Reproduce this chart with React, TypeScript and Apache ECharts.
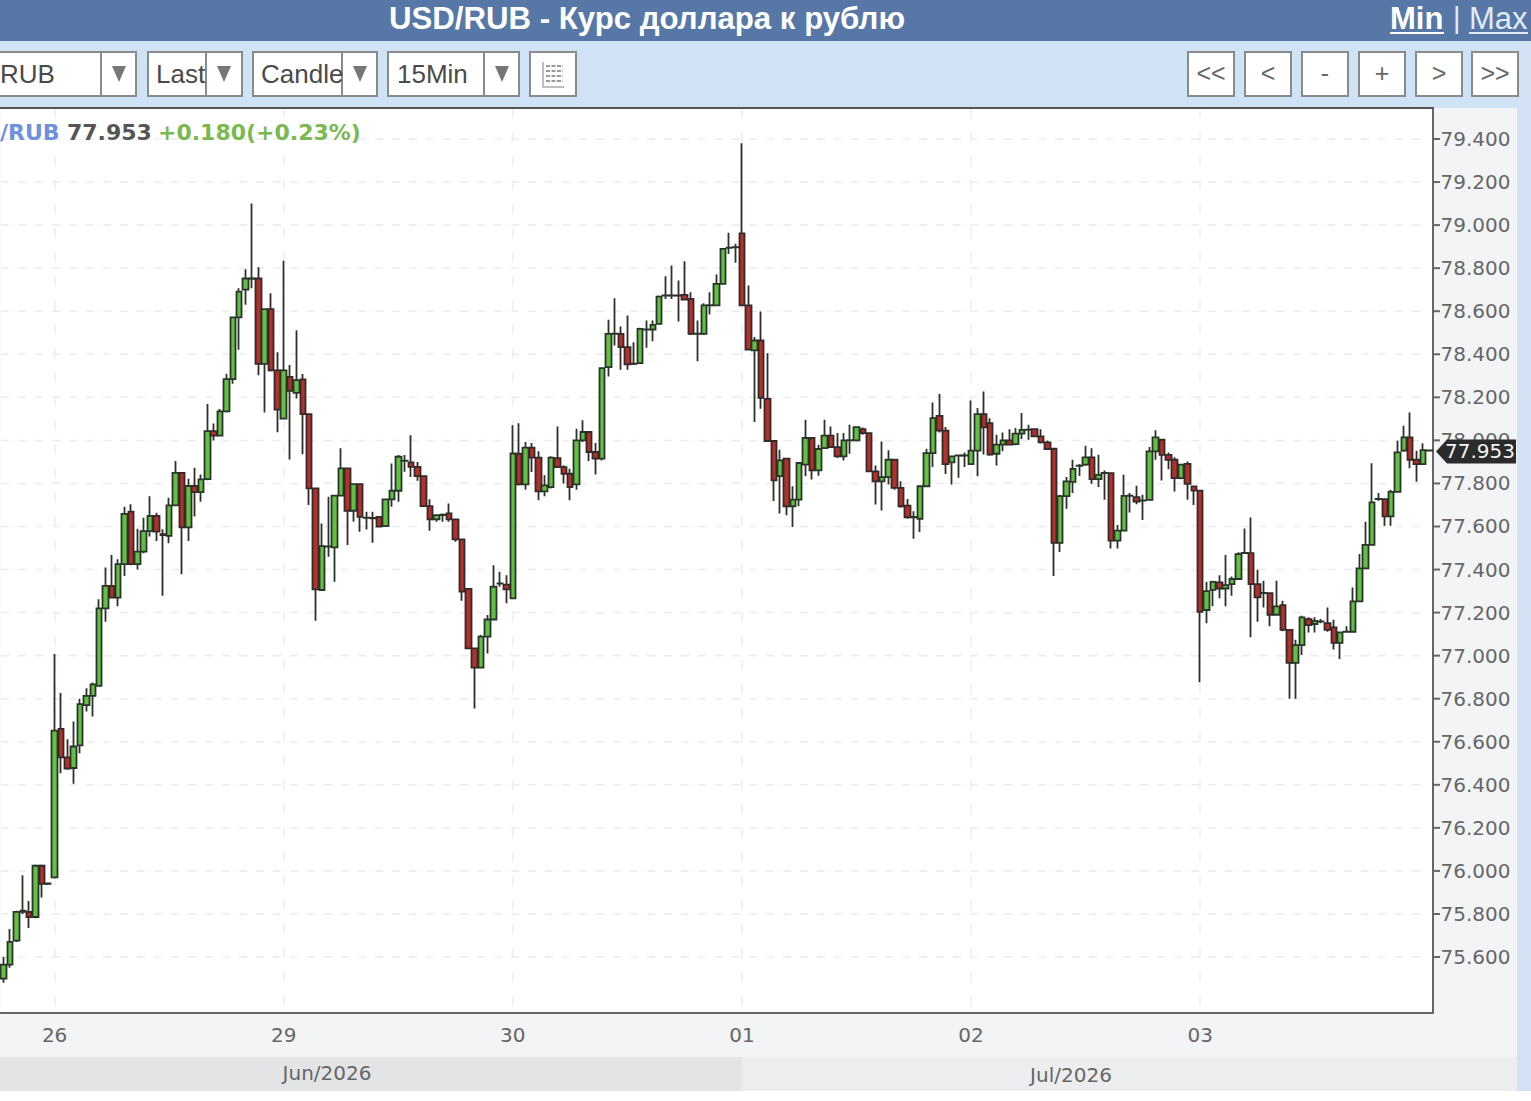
import React, { useEffect, useRef } from "react";
import * as echarts from "echarts";

// [open, close, low, high]
const jun25 = [
  [75.5, 75.565, 75.48, 75.6], [75.565, 75.67, 75.55, 75.73], [75.676, 75.81, 75.67, 75.815], [75.81, 75.815, 75.8, 75.98],
  [75.81, 75.785, 75.735, 75.86], [75.786, 76.024, 75.78, 76.03], [76.024, 75.94, 75.877, 76.03], [75.94, 75.942, 75.935, 75.945],
];
const jun26 = [
  [75.97, 76.652, 75.965, 77.008], [76.66, 76.527, 76.454, 76.826], [76.527, 76.475, 76.47, 76.612], [76.478, 76.578, 76.405, 76.694],
  [76.583, 76.775, 76.547, 76.8], [76.77, 76.813, 76.74, 76.849], [76.813, 76.867, 76.717, 76.875], [76.86, 77.22, 76.855, 77.262],
  [77.22, 77.324, 77.158, 77.409], [77.324, 77.27, 77.265, 77.468], [77.27, 77.425, 77.23, 77.448], [77.425, 77.659, 77.37, 77.692],
  [77.669, 77.425, 77.42, 77.703], [77.425, 77.483, 77.4, 77.59], [77.483, 77.578, 77.476, 77.641], [77.578, 77.649, 77.553, 77.741],
  [77.649, 77.576, 77.533, 77.664], [77.564, 77.56, 77.278, 77.587], [77.556, 77.698, 77.522, 77.734], [77.698, 77.849, 77.695, 77.904],
  [77.849, 77.596, 77.378, 77.85], [77.596, 77.788, 77.533, 77.822], [77.788, 77.76, 77.646, 77.873], [77.76, 77.819, 77.715, 77.842],
  [77.82, 78.043, 77.815, 78.169], [78.043, 78.022, 78.0, 78.078], [78.022, 78.135, 78.02, 78.146], [78.135, 78.285, 78.13, 78.31],
  [78.285, 78.571, 78.263, 78.575], [78.571, 78.691, 78.421, 78.707], [78.7, 78.752, 78.63, 78.795], [78.75, 78.752, 78.707, 79.1],
  [78.752, 78.355, 78.302, 78.804], [78.355, 78.61, 78.13, 78.61], [78.61, 78.325, 78.32, 78.684], [78.325, 78.143, 78.038, 78.409],
];
const jun29 = [
  [78.101, 78.325, 78.1, 78.835], [78.295, 78.23, 77.911, 78.35], [78.221, 78.28, 78.195, 78.512], [78.283, 78.122, 77.936, 78.308],
  [78.122, 77.777, 77.7, 78.122], [77.777, 77.308, 77.162, 77.777], [77.305, 77.509, 77.3, 77.614], [77.506, 77.507, 77.459, 77.738],
  [77.503, 77.743, 77.343, 77.745], [77.743, 77.87, 77.74, 77.963], [77.87, 77.673, 77.514, 77.87], [77.673, 77.797, 77.622, 77.8],
  [77.797, 77.645, 77.576, 77.797], [77.64, 77.641, 77.586, 77.668], [77.64, 77.638, 77.524, 77.668], [77.645, 77.599, 77.595, 77.648],
  [77.602, 77.726, 77.6, 77.726], [77.726, 77.766, 77.692, 77.893], [77.766, 77.924, 77.715, 77.932], [77.905, 77.906, 77.854, 77.932],
  [77.898, 77.877, 77.83, 78.024], [77.877, 77.834, 77.812, 77.9], [77.834, 77.695, 77.69, 77.835], [77.695, 77.633, 77.58, 77.726],
  [77.633, 77.653, 77.622, 77.656], [77.653, 77.655, 77.622, 77.66], [77.661, 77.633, 77.622, 77.707], [77.633, 77.54, 77.529, 77.633],
  [77.54, 77.297, 77.255, 77.54], [77.31, 77.034, 77.03, 77.31], [77.034, 76.944, 76.755, 77.034], [76.944, 77.088, 76.94, 77.096],
  [77.088, 77.168, 77.01, 77.189], [77.168, 77.32, 77.165, 77.42], [77.335, 77.336, 77.32, 77.39], [77.33, 77.308, 77.243, 77.374],
];
const jun30 = [
  [77.266, 77.939, 77.266, 78.07], [77.938, 77.796, 77.79, 78.08], [77.796, 77.966, 77.771, 77.992], [77.966, 77.92, 77.853, 77.988],
  [77.92, 77.763, 77.722, 77.95], [77.763, 77.791, 77.74, 77.838], [77.783, 77.92, 77.776, 77.926], [77.918, 77.876, 77.873, 78.065],
  [77.876, 77.845, 77.8, 77.884], [77.845, 77.783, 77.722, 77.868], [77.796, 78.0, 77.771, 78.054], [78.0, 78.039, 77.992, 78.093],
  [78.039, 77.946, 77.904, 78.04], [77.946, 77.915, 77.842, 77.988], [77.915, 78.336, 77.907, 78.34], [78.34, 78.495, 78.297, 78.56],
  [78.495, 78.496, 78.441, 78.66], [78.495, 78.433, 78.328, 78.529], [78.433, 78.353, 78.328, 78.58], [78.356, 78.355, 78.35, 78.456],
  [78.359, 78.518, 78.356, 78.523], [78.515, 78.516, 78.43, 78.557], [78.515, 78.537, 78.461, 78.557], [78.541, 78.668, 78.538, 78.673],
  [78.673, 78.674, 78.657, 78.763], [78.673, 78.674, 78.657, 78.812], [78.673, 78.672, 78.552, 78.743], [78.676, 78.654, 78.65, 78.832],
  [78.657, 78.495, 78.49, 78.688], [78.495, 78.496, 78.368, 78.557], [78.495, 78.627, 78.49, 78.637], [78.627, 78.628, 78.585, 78.688],
  [78.627, 78.727, 78.623, 78.77], [78.727, 78.89, 78.724, 78.893], [78.894, 78.895, 78.866, 78.964], [78.897, 78.898, 78.825, 78.913],
];
const jul01 = [
  [78.962, 78.627, 78.623, 79.38], [78.627, 78.422, 78.418, 78.719], [78.418, 78.464, 78.085, 78.48], [78.464, 78.198, 78.147, 78.599],
  [78.193, 77.997, 77.992, 78.405], [77.997, 77.814, 77.718, 78.0], [77.834, 77.907, 77.66, 77.957], [77.915, 77.694, 77.652, 77.915],
  [77.694, 77.725, 77.598, 77.787], [77.725, 77.895, 77.694, 77.895], [77.887, 78.011, 77.833, 78.096], [78.011, 77.861, 77.818, 78.011],
  [77.861, 77.96, 77.836, 77.98], [77.964, 78.022, 77.964, 78.096], [78.022, 77.969, 77.965, 78.065], [77.969, 77.926, 77.918, 78.034],
  [77.926, 78.0, 77.906, 78.034], [78.0, 78.001, 77.938, 78.073], [78.0, 78.062, 77.995, 78.065], [78.052, 78.034, 78.026, 78.06],
  [78.034, 77.856, 77.852, 78.034], [77.856, 77.81, 77.702, 77.883], [77.81, 77.829, 77.674, 77.995], [77.829, 77.91, 77.795, 77.954],
  [77.91, 77.779, 77.771, 77.91], [77.779, 77.694, 77.687, 77.81], [77.697, 77.643, 77.636, 77.728], [77.643, 77.644, 77.543, 77.671],
  [77.636, 77.787, 77.574, 77.787], [77.787, 77.941, 77.784, 77.961], [77.941, 78.103, 77.876, 78.176], [78.114, 78.045, 78.037, 78.216],
  [78.045, 77.89, 77.844, 78.062], [77.898, 77.926, 77.795, 77.929], [77.929, 77.93, 77.826, 77.934], [77.929, 77.93, 77.876, 77.944],
];
const jul02 = [
  [77.89, 77.952, 77.887, 78.185], [77.952, 78.122, 77.833, 78.15], [78.122, 78.06, 77.934, 78.227], [78.08, 77.934, 77.929, 78.103],
  [77.938, 77.98, 77.883, 78.026], [77.98, 78.0, 77.949, 78.037], [78.0, 77.98, 77.977, 78.052], [77.983, 78.031, 77.977, 78.057],
  [78.031, 78.049, 78.006, 78.127], [78.049, 78.05, 78.003, 78.073], [78.052, 78.019, 78.015, 78.052], [78.019, 77.991, 77.985, 78.052],
  [77.991, 77.96, 77.957, 78.0], [77.961, 77.524, 77.37, 77.961], [77.524, 77.741, 77.481, 77.748], [77.741, 77.81, 77.682, 77.83],
  [77.807, 77.868, 77.755, 77.91], [77.882, 77.883, 77.835, 77.89], [77.887, 77.921, 77.882, 77.975], [77.921, 77.82, 77.798, 77.964],
  [77.82, 77.84, 77.783, 77.933], [77.848, 77.849, 77.724, 77.86], [77.848, 77.534, 77.498, 77.848], [77.534, 77.581, 77.498, 77.607],
  [77.581, 77.742, 77.58, 77.84], [77.742, 77.743, 77.665, 77.755], [77.736, 77.716, 77.703, 77.789], [77.72, 77.721, 77.63, 77.747],
  [77.724, 77.949, 77.72, 77.969], [77.949, 78.014, 77.91, 78.047], [78.003, 77.933, 77.814, 78.006], [77.933, 77.91, 77.866, 77.944],
  [77.91, 77.825, 77.762, 77.922], [77.825, 77.887, 77.82, 77.891], [77.891, 77.798, 77.724, 77.902], [77.786, 77.767, 77.7, 77.789],
];
const jul03 = [
  [77.767, 77.203, 76.877, 77.767], [77.212, 77.3, 77.151, 77.343], [77.306, 77.343, 77.229, 77.348], [77.34, 77.312, 77.267, 77.374],
  [77.312, 77.328, 77.229, 77.467], [77.332, 77.356, 77.278, 77.368], [77.356, 77.472, 77.353, 77.48], [77.476, 77.477, 77.473, 77.591],
  [77.476, 77.332, 77.085, 77.642], [77.332, 77.271, 77.158, 77.399], [77.29, 77.291, 77.224, 77.348], [77.29, 77.19, 77.136, 77.29],
  [77.19, 77.229, 77.189, 77.348], [77.235, 77.12, 77.113, 77.255], [77.12, 76.966, 76.8, 77.12], [76.966, 77.049, 76.8, 77.074],
  [77.049, 77.178, 77.003, 77.185], [77.17, 77.142, 77.108, 77.178], [77.147, 77.162, 77.108, 77.178], [77.158, 77.159, 77.151, 77.17],
  [77.151, 77.12, 77.111, 77.224], [77.131, 77.059, 77.028, 77.167], [77.059, 77.108, 76.984, 77.111], [77.111, 77.112, 77.108, 77.136],
  [77.111, 77.252, 77.108, 77.317], [77.252, 77.405, 77.25, 77.472], [77.405, 77.515, 77.403, 77.622], [77.515, 77.712, 77.513, 77.894],
  [77.727, 77.728, 77.72, 77.755], [77.727, 77.647, 77.603, 77.73], [77.647, 77.761, 77.603, 77.771], [77.761, 77.944, 77.758, 77.998],
  [77.952, 78.014, 77.947, 78.068], [78.014, 77.91, 77.87, 78.13], [77.91, 77.89, 77.808, 77.952], [77.89, 77.955, 77.887, 77.987],
  [77.953, 77.954, 77.95, 77.956],
];

const candles = [...jun25, ...jun26, ...jun29, ...jun30, ...jul01, ...jul02, ...jul03];
const dayLabels = ["26", "29", "30", "01", "02", "03"];
const dayStartIndexes = [8, 44, 80, 116, 152, 188];
const priceTicks = [79.4, 79.2, 79.0, 78.8, 78.6, 78.4, 78.2, 78.0, 77.8, 77.6, 77.4, 77.2, 77.0, 76.8, 76.6, 76.4, 76.2, 76.0, 75.8, 75.6];
const lastPrice = 77.953;
const lastChange = "+0.180(+0.23%)";
const title = "USD/RUB - Курс доллара к рублю";

const categories = candles.map((_, i) => String(i));
const GREY = "#8a8a8a";
const UI = "Liberation Sans";
const AX = "DejaVu Sans";

function box(x: number, w: number) {
  return { type: "rect", z: 20, shape: { x: x + 1, y: 52, width: w - 2, height: 44 }, style: { fill: "#fff", stroke: GREY, lineWidth: 2 } };
}
function divider(x: number) {
  return { type: "line", z: 21, shape: { x1: x, y1: 52, x2: x, y2: 96 }, style: { stroke: GREY, lineWidth: 2 } };
}
function arrow(cx: number) {
  return { type: "polygon", z: 21, shape: { points: [[cx - 7, 66], [cx + 7, 66], [cx, 82]] }, style: { fill: "#777" } };
}
function txt(text: string, x: number, y: number, size: number, fill: string, extra: any = {}) {
  return {
    type: "text", z: 22, x, y,
    style: { text, fill, fontSize: size, fontFamily: UI, textAlign: "left", textVerticalAlign: "middle", ...extra },
  };
}

function graphics(tagY: number, tickYs: number[]) {
  const els: any[] = [
    { type: "rect", z: 10, shape: { x: 0, y: 0, width: 1531, height: 41 }, style: { fill: "#5778a6" } },
    { type: "rect", z: 10, shape: { x: 0, y: 41, width: 1531, height: 67 }, style: { fill: "#d0e2f6" } },
    { type: "rect", z: 10, shape: { x: 1517, y: 41, width: 14, height: 1050 }, style: { fill: "#d3e1f4" } },
    { type: "rect", z: 10, shape: { x: 0, y: 1057, width: 742, height: 34 }, style: { fill: "#e3e4e6" } },
    { type: "rect", z: 10, shape: { x: 742, y: 1057, width: 775, height: 34 }, style: { fill: "#ecedef" } },
    { type: "rect", z: 10, shape: { x: 0, y: 1091, width: 1531, height: 10 }, style: { fill: "#ffffff" } },
    { type: "line", z: 11, shape: { x1: 0, y1: 108, x2: 1434, y2: 108 }, style: { stroke: "#555", lineWidth: 2 } },
    txt(title, 647, 18, 31.2, "#ffffff", { fontWeight: "bold", textAlign: "center" }),
    txt("Min", 1390, 18, 31, "#ffffff", { fontWeight: "bold" }),
    { type: "line", z: 22, shape: { x1: 1390, y1: 33, x2: 1444, y2: 33 }, style: { stroke: "#fff", lineWidth: 2 } },
    txt("|", 1453, 18, 29, "#e0ebf7"),
    txt("Max", 1469, 18, 31, "#e0ebf7"),
    { type: "line", z: 22, shape: { x1: 1469, y1: 33, x2: 1528, y2: 33 }, style: { stroke: "#e0ebf7", lineWidth: 2 } },
    box(-4, 141), divider(101), arrow(119), txt("RUB", 0, 74, 26, "#4a4a4a"),
    box(147, 96), divider(206), arrow(224), txt("Last", 156, 74, 26, "#4a4a4a"),
    box(252, 126), divider(342), arrow(360), txt("Candle", 261, 74, 26, "#4a4a4a"),
    box(387, 133), divider(484), arrow(502), txt("15Min", 397, 74, 26, "#4a4a4a"),
    box(529, 48),
    { type: "polyline", z: 22, shape: { points: [[543, 62], [543, 87], [564, 87]] }, style: { stroke: "#aaa", fill: "none", lineWidth: 1.5 } },
  ];
  [66, 71, 76, 81].forEach((y) => {
    els.push({ type: "line", z: 22, shape: { x1: 546, y1: y, x2: 563, y2: y }, style: { stroke: "#999", lineWidth: 2, lineDash: [4, 1.5] } });
  });
  const navs = ["<<", "<", "-", "+", ">", ">>"];
  const navX = [1187, 1244, 1301, 1358, 1415, 1471];
  navs.forEach((n, i) => {
    els.push(box(navX[i], 48));
    els.push(txt(n, navX[i] + 24, 73, 25, "#666", { textAlign: "center" }));
  });
  tickYs.forEach((y) => {
    els.push({ type: "line", z: 1, shape: { x1: 1, y1: y, x2: 1421, y2: y }, style: { stroke: "#ececec", lineWidth: 1.5, lineDash: [8, 9] } });
    els.push({ type: "line", z: 12, shape: { x1: 1433, y1: y, x2: 1440, y2: y }, style: { stroke: "#666", lineWidth: 2 } });
  });
  els.push(
    { type: "text", z: 30, x: 0, y: 132, style: { text: "/RUB", fill: "#6f90e0", fontSize: 22, fontFamily: AX, fontWeight: "bold", textVerticalAlign: "middle" } },
    { type: "text", z: 30, x: 67, y: 132, style: { text: lastPrice.toFixed(3), fill: "#555", fontSize: 22, fontFamily: AX, fontWeight: "bold", textVerticalAlign: "middle" } },
    { type: "text", z: 30, x: 158, y: 132, style: { text: lastChange, fill: "#7cb850", fontSize: 22, fontFamily: AX, fontWeight: "bold", textVerticalAlign: "middle" } },
    { type: "text", z: 30, x: 327, y: 1073, style: { text: "Jun/2026", fill: "#666", fontSize: 20, fontFamily: AX, textAlign: "center", textVerticalAlign: "middle" } },
    { type: "text", z: 30, x: 1071, y: 1075, style: { text: "Jul/2026", fill: "#666", fontSize: 20, fontFamily: AX, textAlign: "center", textVerticalAlign: "middle" } },
    { type: "polygon", z: 40, shape: { points: [[1436, tagY], [1447, tagY - 12], [1516, tagY - 12], [1516, tagY + 12], [1447, tagY + 12]] }, style: { fill: "#2b2b2b" } },
    { type: "text", z: 41, x: 1480, y: tagY, style: { text: lastPrice.toFixed(3), fill: "#f4f4f4", fontSize: 20, fontFamily: AX, textAlign: "center", textVerticalAlign: "middle" } },
  );
  return els;
}

export default function App() {
  const ref = useRef<HTMLDivElement>(null);
  useEffect(() => {
    document.body.style.margin = "0";
    const chart = echarts.init(ref.current!, null, { renderer: "svg" });
    const isDay = (i: number) => dayStartIndexes.includes(i);
    const option: any = {
      animation: false,
      backgroundColor: "#f2f4f6",
      grid: { show: true, left: 0.5, top: 108, width: 1432, height: 905, backgroundColor: "#ffffff", borderWidth: 0 },
      xAxis: {
        type: "category",
        data: categories,
        axisLine: { lineStyle: { color: "#666", width: 2 } },
        axisTick: { interval: (i: number) => isDay(i), alignWithLabel: true, length: 8, lineStyle: { color: "#555", width: 2 } },
        axisLabel: {
          interval: (i: number) => isDay(i),
          formatter: (_: string, i: number) => dayLabels[dayStartIndexes.indexOf(i)] ?? "",
          color: "#666", fontSize: 20, fontFamily: AX, margin: 12,
        },
        splitLine: { show: true, alignWithLabel: true, interval: (i: number) => isDay(i), lineStyle: { color: "#eeeeee", type: [10, 14], width: 1.5 } },
      },
      yAxis: {
        type: "value",
        position: "right",
        min: 75.34,
        max: 79.544,
        splitNumber: 21,
        axisLine: { show: true, lineStyle: { color: "#666", width: 2 } },
        axisTick: { show: false },
        axisLabel: {
          customValues: priceTicks,
          formatter: (v: number) => v.toFixed(3),
          color: "#666", fontSize: 20, fontFamily: AX, margin: 8,
        },
        splitLine: { show: false },
      },
      series: [
        {
          type: "candlestick",
          data: candles,
          barWidth: 6,
          itemStyle: { color: "#62c044", color0: "#b3302b", borderColor: "#2a352a", borderColor0: "#352a2a", borderWidth: 1.8 },
        },
      ],
    };
    chart.setOption(option);
    const y = chart.convertToPixel({ yAxisIndex: 0 }, lastPrice) as number;
    const tickYs = priceTicks.map((p) => chart.convertToPixel({ yAxisIndex: 0 }, p) as number);
    chart.setOption({ graphic: { elements: graphics(y + 1, tickYs) } });
    return () => chart.dispose();
  }, []);
  return <div ref={ref} style={{ width: 1531, height: 1101 }} />;
}
